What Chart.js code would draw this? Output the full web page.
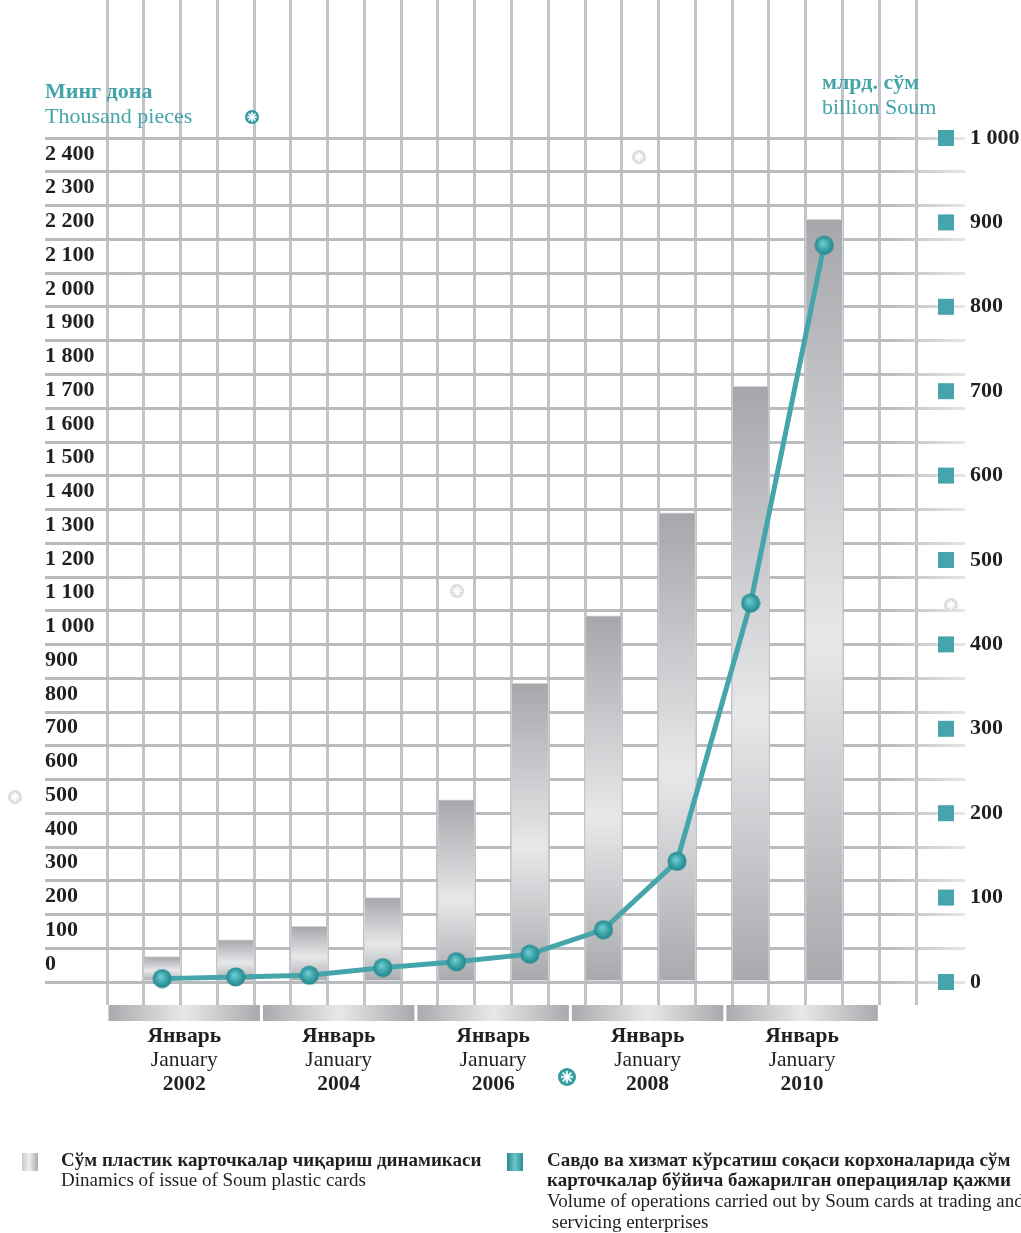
<!DOCTYPE html>
<html>
<head>
<meta charset="utf-8">
<title>Сўм пластик карточкалар</title>
<script src="https://cdn.jsdelivr.net/npm/chart.js@4.4.0/dist/chart.umd.min.js"></script>
<style>
  html, body { margin: 0; padding: 0; background: #fff; }
  canvas { display: block; }
</style>
</head>
<body>
<canvas id="cards" width="1021" height="1233"></canvas>
<script>
// January of every year
const periods = ['2002', '2003', '2004', '2005', '2006', '2007', '2008', '2009', '2010', '2011'];
// issued cards, thousand pieces (left axis)
const cardsIssued = [75, 125, 165, 250, 540, 885, 1085, 1390, 1765, 2260];
// operations at trade and service points, billion soum (right axis)
const turnover = [4, 6, 8, 17, 24, 33, 62, 143, 449, 873];

const leftTicks = [0, 100, 200, 300, 400, 500, 600, 700, 800, 900, 1000, 1100, 1200,
  1300, 1400, 1500, 1600, 1700, 1800, 1900, 2000, 2100, 2200, 2300, 2400, 2500];
const rightTicks = [0, 100, 200, 300, 400, 500, 600, 700, 800, 900, 1000];
const yearLabels = ['2002', '2004', '2006', '2008', '2010'];
const monthUz = 'Январь';
const monthEn = 'January';

const SERIF = "'Liberation Serif', 'Times New Roman', serif";
const TEAL = '#45a4aa';
const INK = '#231f20';

const fmt = v => String(v).replace(/\B(?=(\d{3})+(?!\d))/g, ' ');

// bars sit in every other grid cell
const barPoints = cardsIssued.map((v, i) => ({ x: 1.5 + 2 * i, y: v }));
const linePoints = turnover.map((v, i) => ({ x: 1.5 + 2 * i, y: v }));

function makeBall(d) {
  const c = document.createElement('canvas');
  c.width = d; c.height = d;
  const g = c.getContext('2d');
  const r = d / 2;
  const grad = g.createRadialGradient(r * 0.85, r * 0.8, 1, r, r, r);
  grad.addColorStop(0, '#6cc9cd');
  grad.addColorStop(0.55, '#3aa2a8');
  grad.addColorStop(1, '#1f8389');
  g.fillStyle = grad;
  g.beginPath();
  g.arc(r, r, r - 0.5, 0, Math.PI * 2);
  g.fill();
  return c;
}

function barFill(ctx) {
  const chart = ctx.chart;
  if (!chart.chartArea || !ctx.raw) return '#bdbec1';
  const y = chart.scales.y;
  const top = y.getPixelForValue(ctx.raw.y);
  const base = y.getPixelForValue(0);
  const g = chart.ctx.createLinearGradient(0, top, 0, base);
  g.addColorStop(0, '#a6a7aa');
  g.addColorStop(0.55, '#e7e8ea');
  g.addColorStop(1, '#a8a9ac');
  return g;
}

// horizontal lines fade out past the last vertical line
function hLineColor(ctx) {
  const chart = ctx.chart;
  const a = chart.chartArea;
  if (!a || !chart.scales.x) return '#b9babd';
  const g = chart.ctx.createLinearGradient(a.left, 0, a.right, 0);
  const edge = (chart.scales.x.getPixelForValue(22) - a.left) / (a.right - a.left);
  g.addColorStop(0, '#b9babd');
  g.addColorStop(Math.max(0, edge - 0.03), '#bbbcbf');
  g.addColorStop(1, '#e6e6e8');
  return g;
}

function flower(ctx, x, y, r, teal) {
  ctx.save();
  if (teal) {
    const g = ctx.createRadialGradient(x, y, 1, x, y, r);
    g.addColorStop(0, '#5cc0c5');
    g.addColorStop(1, '#2c9197');
    ctx.fillStyle = g;
  } else {
    ctx.fillStyle = '#dcdcdd';
  }
  ctx.beginPath();
  ctx.arc(x, y, r, 0, Math.PI * 2);
  ctx.fill();
  ctx.strokeStyle = '#fff';
  ctx.lineWidth = 1.6;
  ctx.lineCap = 'round';
  for (let k = 0; k < 8; k++) {
    const a = k * Math.PI / 4;
    ctx.beginPath();
    ctx.moveTo(x, y);
    ctx.lineTo(x + Math.cos(a) * r * 0.6, y + Math.sin(a) * r * 0.6);
    ctx.stroke();
  }
  ctx.restore();
}

const decor = {
  id: 'decor',
  afterDraw(chart) {
    const { ctx, chartArea: a } = chart;
    const x = chart.scales.x;
    const y1 = chart.scales.y1;
    ctx.save();
    ctx.textBaseline = 'middle';

    // axis titles
    ctx.fillStyle = TEAL;
    ctx.textAlign = 'left';
    ctx.font = 'bold 22px ' + SERIF;
    ctx.fillText('Минг дона', 45, 92);
    ctx.fillText('млрд. сўм', 822, 83);
    ctx.font = '22px ' + SERIF;
    ctx.fillText('Thousand pieces', 45, 117);
    ctx.fillText('billion Soum', 822, 108);

    // markers beside the right axis labels
    ctx.fillStyle = '#46a5ab';
    y1.ticks.forEach(t => {
      const py = y1.getPixelForValue(t.value);
      ctx.fillRect(938, py - 8, 16, 16);
    });

    // period strips and labels under the grid
    const span = 21 / yearLabels.length;
    yearLabels.forEach((yr, i) => {
      const x0 = x.getPixelForValue(span * i) + 1.5;
      const x1 = x.getPixelForValue(span * (i + 1)) - 1.5;
      const g = ctx.createLinearGradient(x0, 0, x1, 0);
      g.addColorStop(0, '#a9aaad');
      g.addColorStop(0.5, '#e8e8ea');
      g.addColorStop(1, '#a9aaad');
      ctx.fillStyle = g;
      ctx.fillRect(x0, a.bottom, x1 - x0, 16);
      const cx = (x0 + x1) / 2;
      ctx.fillStyle = INK;
      ctx.textAlign = 'center';
      ctx.font = 'bold 21.5px ' + SERIF;
      ctx.fillText(monthUz, cx, a.bottom + 31);
      ctx.font = '21.5px ' + SERIF;
      ctx.fillText(monthEn, cx, a.bottom + 55);
      ctx.font = 'bold 21.5px ' + SERIF;
      ctx.fillText(yr, cx, a.bottom + 79);
    });

    // legend
    let g = ctx.createLinearGradient(22, 0, 38, 0);
    g.addColorStop(0, '#c9cacc');
    g.addColorStop(0.45, '#efeff0');
    g.addColorStop(1, '#a9aaad');
    ctx.fillStyle = g;
    ctx.fillRect(22, 1153, 16, 18);
    g = ctx.createLinearGradient(507, 0, 523, 0);
    g.addColorStop(0, '#2a8a90');
    g.addColorStop(0.5, '#6cc5c9');
    g.addColorStop(1, '#2c8d93');
    ctx.fillStyle = g;
    ctx.fillRect(507, 1153, 16, 18);

    ctx.fillStyle = INK;
    ctx.textAlign = 'left';
    ctx.font = 'bold 19px ' + SERIF;
    ctx.fillText('Сўм пластик карточкалар чиқариш динамикаси', 61, 1161);
    ctx.fillText('Савдо ва хизмат кўрсатиш соқаси корхоналарида сўм', 547, 1161);
    ctx.fillText('карточкалар бўйича бажарилган операциялар қажми', 547, 1181);
    ctx.font = '19px ' + SERIF;
    ctx.fillText('Dinamics of issue of Soum plastic cards', 61, 1181);
    ctx.fillText('Volume of operations carried out by Soum cards at trading and', 547, 1202);
    ctx.fillText(' servicing enterprises', 547, 1223);

    // ornaments
    flower(ctx, 252, 117, 7, true);
    flower(ctx, 567, 1077, 9, true);
    flower(ctx, 639, 157, 7, false);
    flower(ctx, 457, 591, 7, false);
    flower(ctx, 951, 605, 7, false);
    flower(ctx, 15, 797, 7, false);
    ctx.restore();
  }
};

const noPad = s => { s.paddingTop = 0; s.paddingBottom = 0; s.paddingLeft = 0; s.paddingRight = 0; };

new Chart(document.getElementById('cards'), {
  data: {
    labels: periods,
    datasets: [
      {
        type: 'line',
        label: 'Volume of operations carried out by Soum cards',
        data: linePoints,
        yAxisID: 'y1',
        order: 0,
        borderColor: '#45a5aa',
        borderWidth: 5,
        tension: 0,
        pointStyle: makeBall(20),
        pointRadius: 10
      },
      {
        type: 'bar',
        label: 'Dinamics of issue of Soum plastic cards',
        data: barPoints,
        yAxisID: 'y',
        order: 1,
        backgroundColor: barFill,
        borderColor: '#d2d3d5',
        borderWidth: 1,
        barThickness: 37
      }
    ]
  },
  options: {
    responsive: false,
    animation: false,
    layout: { autoPadding: false, padding: { left: 45, right: 0, top: 0, bottom: 0 } },
    plugins: { legend: { display: false }, tooltip: { enabled: false } },
    scales: {
      x: {
        type: 'linear',
        offset: false,
        min: 0,
        max: 23.33,
        afterBuildTicks: s => { s.ticks = Array.from({ length: 23 }, (_, i) => ({ value: i })); },
        afterFit: s => { s.height = 228; noPad(s); },
        ticks: { display: false },
        border: { display: false },
        grid: { offset: false, color: '#c3c4c7', lineWidth: 3, drawTicks: false }
      },
      y: {
        position: 'left',
        min: -68.1,
        max: 2909.6,
        afterBuildTicks: s => { s.ticks = leftTicks.map(v => ({ value: v })); },
        afterFit: s => { s.width = 62; noPad(s); },
        border: { display: false },
        grid: { color: hLineColor, lineWidth: 3, drawTicks: true, tickLength: 62 },
        ticks: {
          autoSkip: false,
          crossAlign: 'far',
          labelOffset: -18,
          color: INK,
          font: { family: SERIF, size: 22, weight: 'bold' },
          callback: v => (v === 2500 ? '' : fmt(v))
        }
      },
      y1: {
        position: 'right',
        min: -27.25,
        max: 1163.5,
        afterBuildTicks: s => { s.ticks = rightTicks.map(v => ({ value: v })); },
        afterFit: s => { s.width = 56; noPad(s); },
        border: { display: false },
        grid: { display: false, drawTicks: false },
        ticks: {
          autoSkip: false,
          padding: 5,
          color: INK,
          font: { family: SERIF, size: 22, weight: 'bold' },
          callback: v => fmt(v)
        }
      }
    }
  },
  plugins: [decor]
});
</script>
</body>
</html>
